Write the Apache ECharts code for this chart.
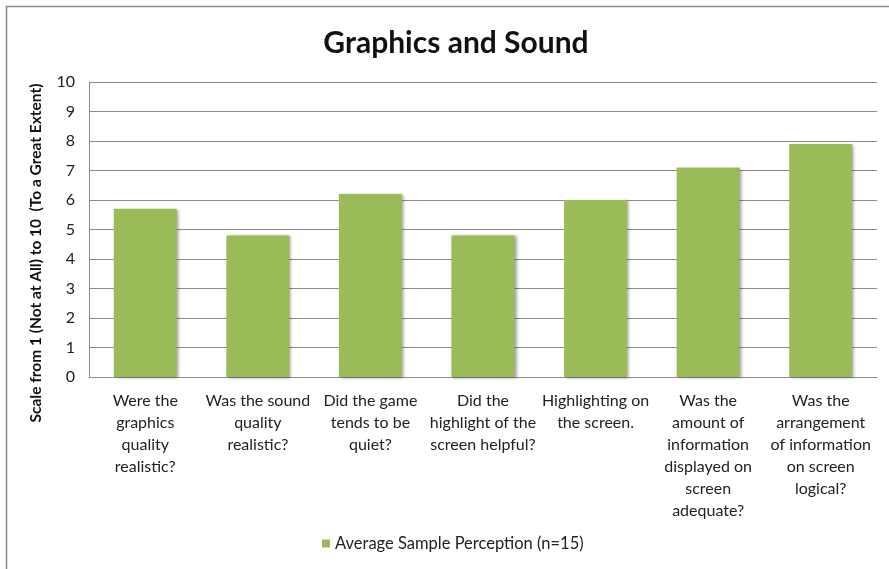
<!DOCTYPE html>
<html>
<head>
<meta charset="utf-8">
<style>
  html, body { margin: 0; padding: 0; background: #fff; }
  #chart { width: 889px; height: 569px; }
</style>
<script src="https://cdn.jsdelivr.net/npm/echarts@6/dist/echarts.min.js"></script>
</head>
<body>
<div id="chart"></div>
<script>
// Survey questions (wrapped as they appear under each bar)
const categories = [
  'Were the\ngraphics\nquality\nrealistic?',
  'Was the sound\nquality\nrealistic?',
  'Did the game\ntends to be\nquiet?',
  'Did the\nhighlight of the\nscreen helpful?',
  'Highlighting on\nthe screen.',
  'Was the\namount of\ninformation\ndisplayed on\nscreen\nadequate?',
  'Was the\narrangement\nof information\non screen\nlogical?'
];

// Average rating per question
const averageScores = [5.7, 4.8, 6.2, 4.8, 6.0, 7.1, 7.9];

const yTicks = [0, 1, 2, 3, 4, 5, 6, 7, 8, 9, 10];

const seriesName = 'Average Sample Perception (n=15)';
const chartTitle = 'Graphics and Sound';
const yAxisTitle = 'Scale from 1 (Not at All) to 10  (To a Great Extent)';

const FONT = 'Lato, "Open Sans", sans-serif';
const chart = echarts.init(document.getElementById('chart'), null, { renderer: 'canvas' });

chart.setOption({
  backgroundColor: '#ffffff',
  animation: false,
  title: {
    text: chartTitle,
    left: 451,
    top: 23,
    textAlign: 'center',
    textStyle: { fontFamily: FONT, fontSize: 30, fontWeight: 'bold', color: '#111' }
  },
  legend: {
    data: [seriesName],
    bottom: 12,
    left: 317,
    itemWidth: 8,
    itemHeight: 8,
    icon: 'rect',
    itemGap: 8,
    textStyle: { fontFamily: FONT, fontSize: 16.5, color: '#222' }
  },
  grid: { left: 89, right: 12, top: 82, bottom: 192, containLabel: false },
  xAxis: {
    type: 'category',
    data: categories,
    axisLine: { show: true, lineStyle: { color: '#8c8c8c', width: 1 } },
    axisTick: { show: false },
    axisLabel: {
      interval: 0,
      margin: 13,
      fontFamily: FONT,
      fontSize: 16,
      lineHeight: 22,
      color: '#222',
      align: 'center'
    }
  },
  yAxis: {
    type: 'value',
    min: yTicks[0],
    max: yTicks[yTicks.length - 1],
    interval: 1,
    axisLine: { show: true, lineStyle: { color: '#8c8c8c', width: 1 } },
    axisTick: { show: false },
    axisLabel: { fontFamily: FONT, fontSize: 16, color: '#222', margin: 14 },
    splitLine: { show: true, lineStyle: { color: '#8c8c8c', width: 1 } }
  },
  series: [{
    name: seriesName,
    type: 'bar',
    data: averageScores,
    barWidth: '56%',
    itemStyle: {
      color: '#9bbb59',
      shadowColor: 'rgba(0,0,0,0.35)',
      shadowBlur: 3,
      shadowOffsetX: 2,
      shadowOffsetY: 1
    }
  }],
  graphic: [
    {
      // vertical axis title
      type: 'text',
      x: 36,
      y: 253,
      rotation: Math.PI / 2,
      silent: true,
      style: {
        text: yAxisTitle,
        fontFamily: FONT,
        fontSize: 15.5,
        fontWeight: 'bold',
        fill: '#111',
        textAlign: 'center',
        textVerticalAlign: 'middle'
      }
    },
    {
      // chart frame
      type: 'rect',
      shape: { x: 6.5, y: 6.5, width: 900, height: 600 },
      style: { fill: 'none', stroke: '#8a8a8a', lineWidth: 1.5 },
      silent: true,
      z: 100
    }
  ]
});
</script>
</body>
</html>
